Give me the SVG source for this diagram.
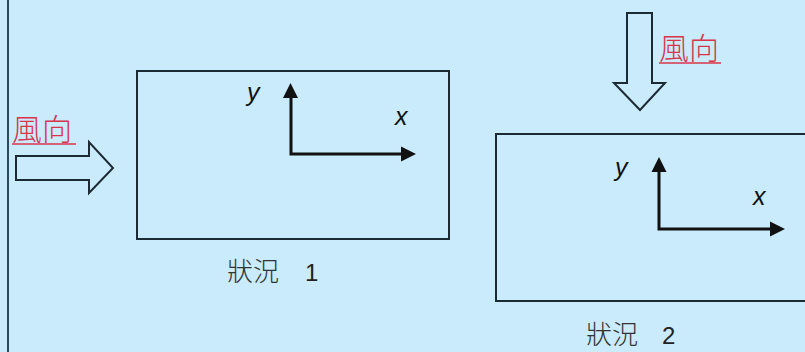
<svg xmlns="http://www.w3.org/2000/svg" width="805" height="352" viewBox="0 0 805 352">
<style>
.box{fill:none;stroke:#1c2a33;stroke-width:2}
.axis{stroke:#111;stroke-width:3;fill:none}
.wind{fill:#c9ebfc;stroke:#1c2a33;stroke-width:2;stroke-linejoin:miter}
.wl{font-family:"Noto Sans CJK TC","Noto Sans CJK SC",sans-serif;font-size:30px;font-weight:300;fill:#d8354b}
.ul{stroke:#d8354b;stroke-width:1.5}
.lbl{font-family:"Noto Sans CJK TC","Noto Sans CJK SC",sans-serif;font-size:26px;font-weight:300;fill:#333}
.num{font-family:"Liberation Sans",sans-serif;font-size:24px;fill:#222}
.var{font-family:"Liberation Sans",sans-serif;font-style:italic;font-size:25px;fill:#111}
</style>
<rect x="0" y="0" width="805" height="352" fill="#c9ebfc"/>
<line x1="8" y1="0" x2="8" y2="352" stroke="#2b4a5c" stroke-width="2"/>
<g id="situation1">
<rect class="box" x="137" y="71" width="312" height="168"/>
<text class="lbl" x="227" y="281">狀況</text>
<text class="num" x="305" y="281">1</text>
</g>
<g id="situation2">
<rect class="box" x="496" y="134" width="320" height="167"/>
<text class="lbl" x="586" y="344">狀況</text>
<text class="num" x="662" y="344">2</text>
</g>
<g id="wind1">
<polygon class="wind" points="16,156 89,156 89,142 113,168 89,193 89,180 16,180"/>
<text class="wl" x="12" y="139.5">風向</text>
<line class="ul" x1="12" y1="144" x2="76" y2="144"/>
</g>
<g id="wind2">
<polygon class="wind" points="627,13 652,13 652,83 665,83 640,110 614,83 627,83"/>
<text class="wl" x="659" y="58.5">風向</text>
<line class="ul" x1="659" y1="63" x2="721" y2="63"/>
</g>
<g id="connectors">
<polyline class="axis" points="291,98 291,154 402,154"/>
<polygon points="283,98 298,98 290.5,83" fill="#111"/>
<polygon points="401,146.5 401,161.5 416,154" fill="#111"/>
<polyline class="axis" points="659,172 659,229 771,229"/>
<polygon points="651.5,172 666.5,172 659,157" fill="#111"/>
<polygon points="770,221.5 770,236.5 785,229" fill="#111"/>
</g>
<g id="axis-labels">
<text class="var" x="247" y="101">y</text>
<text class="var" x="395" y="125">x</text>
<text class="var" x="615" y="176">y</text>
<text class="var" x="753" y="205">x</text>
</g>
</svg>
